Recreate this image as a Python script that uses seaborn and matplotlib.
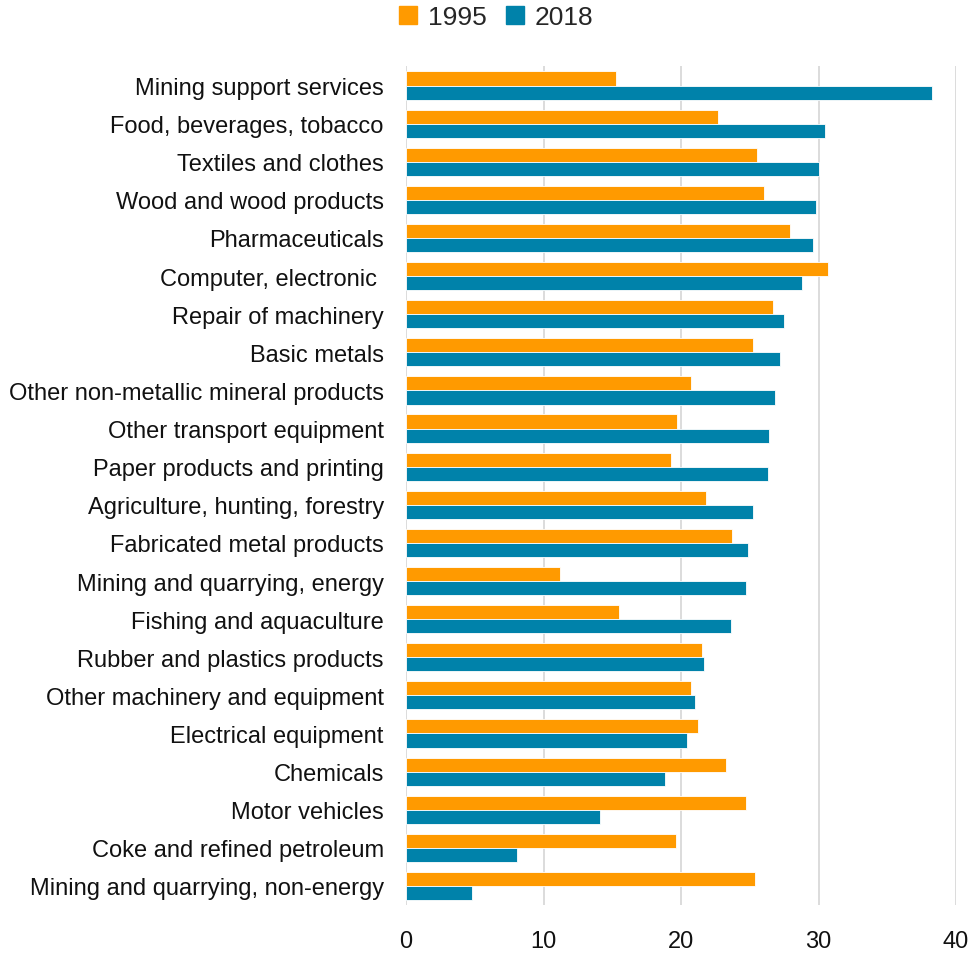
import pandas as pd
import seaborn as sns
import matplotlib.pyplot as plt
from matplotlib.lines import Line2D

# sectors, top to bottom
sectors = [
    "Mining support services", "Food, beverages, tobacco", "Textiles and clothes",
    "Wood and wood products", "Pharmaceuticals", "Computer, electronic ",
    "Repair of machinery", "Basic metals", "Other non-metallic mineral products",
    "Other transport equipment", "Paper products and printing",
    "Agriculture, hunting, forestry", "Fabricated metal products",
    "Mining and quarrying, energy", "Fishing and aquaculture",
    "Rubber and plastics products", "Other machinery and equipment",
    "Electrical equipment", "Chemicals", "Motor vehicles",
    "Coke and refined petroleum", "Mining and quarrying, non-energy",
]
vals_1995 = [15.3, 22.7, 25.5, 26.0, 27.9, 30.7, 26.7, 25.2, 20.7, 19.7, 19.3,
             21.8, 23.7, 11.2, 15.5, 21.5, 20.7, 21.2, 23.3, 24.7, 19.6, 25.4]
vals_2018 = [38.25, 30.5, 30.0, 29.8, 29.6, 28.8, 27.5, 27.2, 26.8, 26.4, 26.3,
             25.2, 24.9, 24.7, 23.6, 21.7, 21.0, 20.4, 18.8, 14.1, 8.1, 4.8]
years = ["1995", "2018"]
colors = ["#FF9A00", "#0082AA"]

df = pd.DataFrame({"sector": sectors, "1995": vals_1995, "2018": vals_2018})
long = df.melt(id_vars="sector", var_name="year", value_name="value")

sns.set_style("white")
plt.rcParams["font.family"] = ["Liberation Sans", "DejaVu Sans"]

fig = plt.figure(figsize=(9.7, 9.54), dpi=100)
ax = fig.add_axes([0.4186, 0.0503, 0.567, 0.879])

sns.barplot(data=long, y="sector", x="value", hue="year", order=sectors,
            hue_order=years, palette=colors, saturation=1, orient="h", width=0.74,
            edgecolor="white", linewidth=0.6, ax=ax, legend=False)

ax.set_xlim(0, 40)
ax.set_xticks([0, 10, 20, 30, 40])
ax.set_ylim(len(sectors) - 0.5, -0.5)
ax.set_xlabel("")
ax.set_ylabel("")
ax.xaxis.grid(True, color="#d9d9d9", linewidth=1.3)
ax.set_axisbelow(True)
for s in ax.spines.values():
    s.set_visible(False)
ax.tick_params(axis="y", length=0, pad=16, labelsize=17, colors="#111111")
ax.tick_params(axis="x", length=0, pad=18, labelsize=17, colors="#111111")

handles = [Line2D([], [], marker="s", linestyle="", markersize=13, color=c) for c in colors]
fig.legend(handles, years, loc="center", bbox_to_anchor=(0.51, 0.981), ncol=2,
           frameon=False, fontsize=19, handletextpad=0.3, columnspacing=0.6,
           handlelength=0.9)

fig.savefig("out.png", dpi=100)
